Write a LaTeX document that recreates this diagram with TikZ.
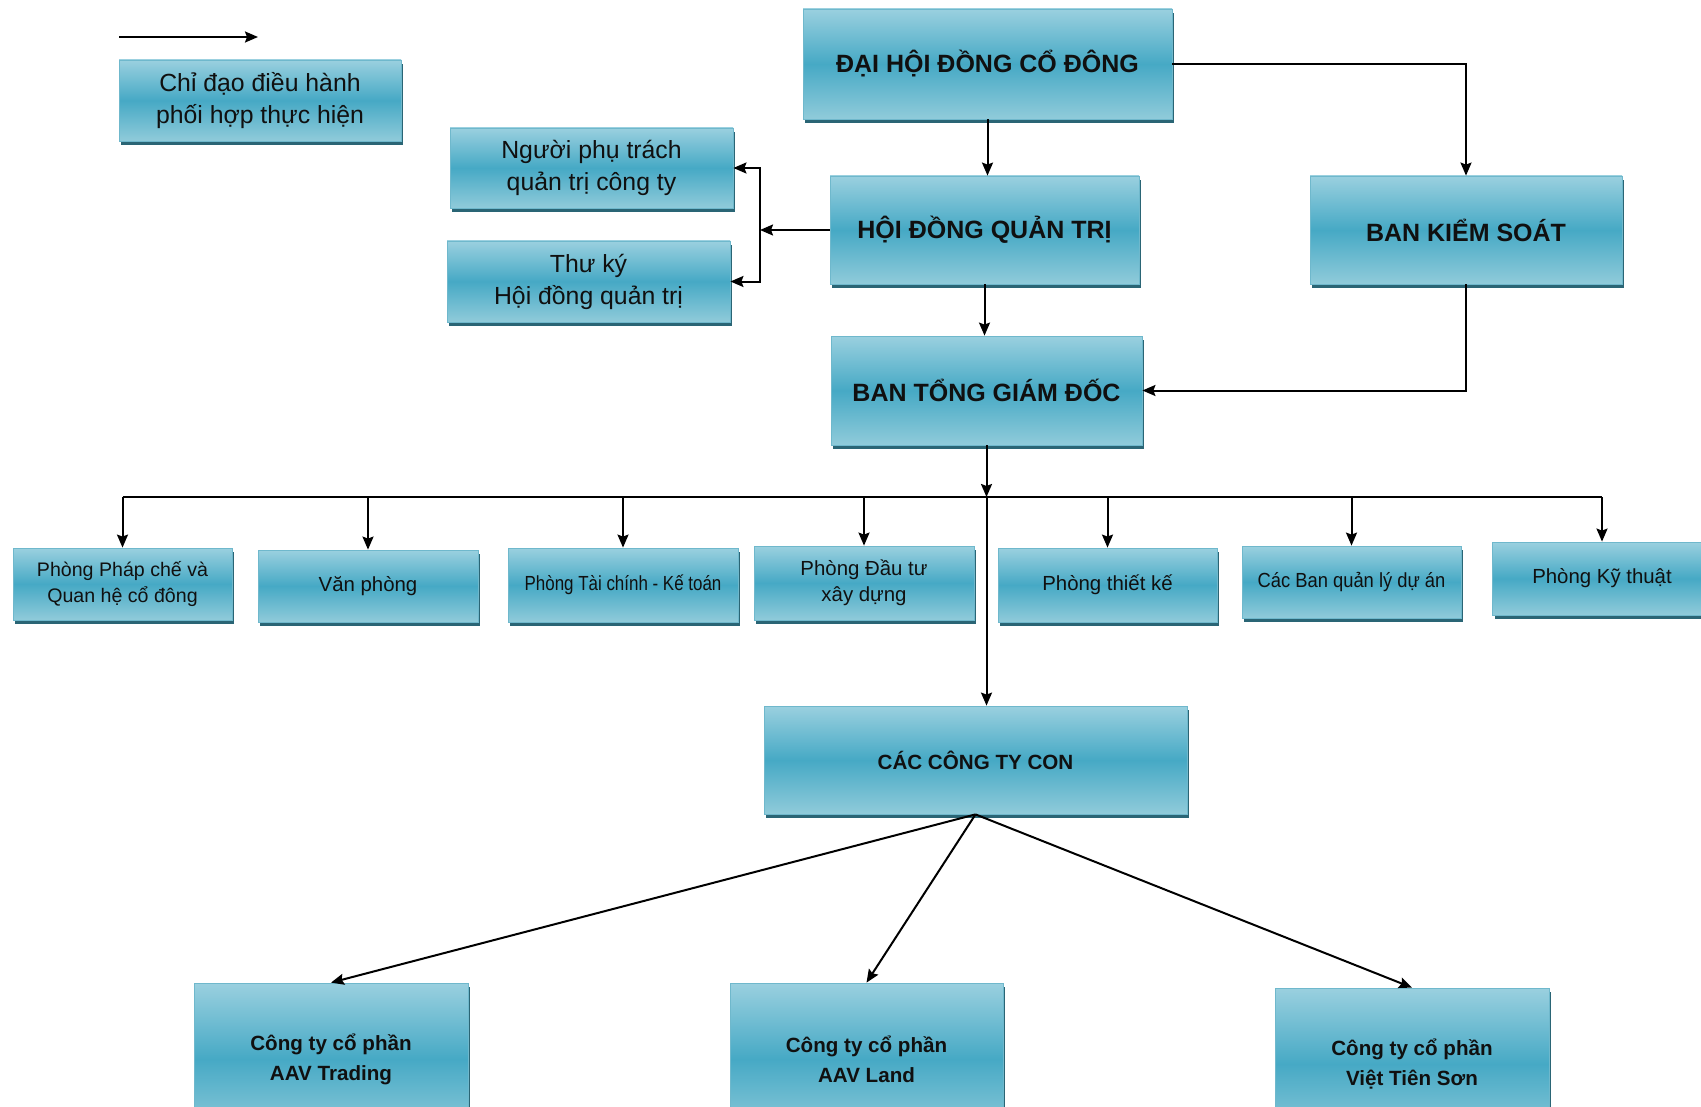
\documentclass[tikz,border=0pt]{standalone}
\usepackage{fontspec}
\setmainfont{Liberation Sans}
\usepackage{graphicx}
\usetikzlibrary{arrows.meta,shadows}
\definecolor{boxtop}{HTML}{9AD0DF}
\definecolor{boxmid}{HTML}{46A9C5}
\definecolor{boxbot}{HTML}{90CBDA}
\definecolor{boxshadow}{HTML}{2A6575}
\definecolor{boxedge}{HTML}{6FB8CC}
\definecolor{txt}{HTML}{101010}
\begin{document}
\begin{tikzpicture}[x=0.5pt,y=-0.5pt,
  orgbox/.style={rectangle, inner sep=0pt, align=center, text=txt,
    draw=boxedge, line width=0.4pt,
    top color=boxtop, bottom color=boxbot, middle color=boxmid,
    general shadow={fill=boxshadow, shadow xshift=1.2pt, shadow yshift=-2pt}},
  titlebox/.style={orgbox, font=\bfseries\fontsize{12.5}{15}\selectfont},
  subbox/.style={orgbox, font=\bfseries\fontsize{10.3}{15}\selectfont},
  sidebox/.style={orgbox, font=\fontsize{12.4}{15.75}\selectfont},
  deptbox/.style={orgbox, font=\fontsize{10.2}{13}\selectfont},
  link/.style={line width=1pt, draw=black},
  arr/.style={link, -{Stealth[length=6.5pt,width=5.5pt,inset=1pt]}},
  darr/.style={link, {Stealth[length=6.5pt,width=5.5pt,inset=1pt]}-{Stealth[length=6.5pt,width=5.5pt,inset=1pt]}},
]
\path[use as bounding box, fill=white] (0,0) rectangle (1701,1107);

% legend
\coordinate (la) at (119,37);
\coordinate (lb) at (258,37);
\draw[arr] (la) -- (lb);
\node[sidebox, minimum width=141pt, minimum height=40.5pt] (leg) at (260,100.5)
  {Chỉ đạo điều hành\\phối hợp thực hiện};

% top level
\node[titlebox, minimum width=184.5pt, minimum height=55pt] (dhdcd) at (987.5,64) {ĐẠI HỘI ĐỒNG CỔ ĐÔNG};
\node[titlebox, minimum width=154.5pt, minimum height=54pt] (hdqt) at (984.5,230) {HỘI ĐỒNG QUẢN TRỊ};
\node[titlebox, minimum width=156pt, minimum height=54pt] (bks) at (1466,230) {BAN KIỂM SOÁT};
\node[titlebox, minimum width=155.5pt, minimum height=54.5pt] (btgd) at (986.5,390.5) {BAN TỔNG GIÁM ĐỐC};

\node[sidebox, minimum width=141.5pt, minimum height=40pt] (npt) at (591.5,168) {Người phụ trách\\quản trị công ty};
\node[sidebox, font=\fontsize{12.4}{16}\selectfont, minimum width=141.5pt, minimum height=40.5pt] (tk) at (588.5,281.5) {Thư ký\\Hội đồng quản trị};

% departments
\node[deptbox, font=\fontsize{9.8}{13}\selectfont, minimum width=109.5pt, minimum height=36pt] (d1) at (122.5,584) {Phòng Pháp chế và\\Quan hệ cổ đông};
\node[deptbox, minimum width=110pt, minimum height=36pt] (d2) at (368,586) {Văn phòng};
\node[deptbox, minimum width=115pt, minimum height=37pt] (d3) at (623,585) {\scalebox{0.83}[1]{Phòng Tài chính - Kế toán}};
\node[deptbox, minimum width=110pt, minimum height=37pt] (d4) at (864,583) {Phòng Đầu tư\\xây dựng};
\node[deptbox, minimum width=109.5pt, minimum height=37pt] (d5) at (1107.5,585) {Phòng thiết kế};
\node[deptbox, minimum width=109.5pt, minimum height=36pt] (d6) at (1351.5,582) {\scalebox{0.9}[1]{Các Ban quản lý dự án}};
\node[deptbox, minimum width=109.5pt, minimum height=36.5pt] (d7) at (1602,578.5) {Phòng Kỹ thuật};

% subsidiaries
\node[subbox, minimum width=211.5pt, minimum height=54pt] (con) at (975.5,760) {CÁC CÔNG TY CON};
\node[subbox, minimum width=137pt, minimum height=76pt] (c1) at (331,1059) {Công ty cổ phần\\AAV Trading};
\node[subbox, minimum width=136.5pt, minimum height=76pt] (c2) at (866.5,1059) {Công ty cổ phần\\AAV Land};
\node[subbox, minimum width=137pt, minimum height=76pt] (c3) at (1412,1064) {Công ty cổ phần\\Việt Tiên Sơn};

% connectors
\draw[arr] (dhdcd.south) -- (dhdcd.south |- hdqt.north);
\draw[arr] (hdqt.south) -- (hdqt.south |- btgd.north);
\draw[arr] (dhdcd.east) -| (bks.north);
\draw[arr] (bks.south) |- (btgd.east);

\coordinate (br) at (760,230);
\draw[arr] (hdqt.west) -- (hdqt.west -| br);
\draw[darr] (npt.east) -- (npt.east -| br) -- (tk.east -| br) -- (tk.east);

\coordinate (bus) at (986.5,497);
\draw[arr] (btgd.south) -- (bus);
\draw[arr] (bus) -- (bus |- con.north);
\draw[link] (d1.north |- bus) -- (d7.north |- bus);
\foreach \d in {d1,d2,d3,d4,d5,d6,d7}{
  \draw[arr] (\d.north |- bus) -- (\d.north);
}

\draw[arr] (con.south) -- (c1.north);
\draw[arr] (con.south) -- (c2.north);
\draw[arr] (con.south) -- (c3.north);
\end{tikzpicture}
\end{document}
